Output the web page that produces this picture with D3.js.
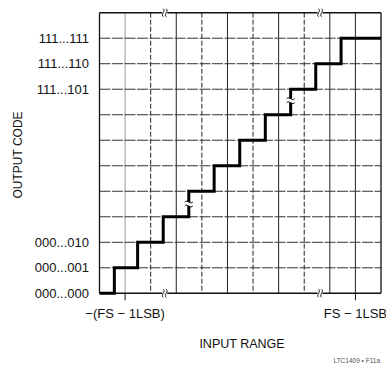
<!DOCTYPE html>
<html>
<head>
<meta charset="utf-8">
<script src="https://cdn.jsdelivr.net/npm/d3@7"></script>
<style>
body{margin:0;background:#fff}
text{font-family:"Liberation Sans",Arial,sans-serif;fill:#111}
</style>
</head>
<body>
<div id="chart"></div>
<script>
// transfer function, x in grid cells
const STEP_X = [0.58,1.49,2.49,3.49,4.48,5.48,6.48,7.47,8.45,9.44];
const CODES = [1,2,3,4,5,6,7,8,9,10];
const Y_TICKS = [0,1,2,8,9,10];
const Y_LABELS = ["000...000","000...001","000...010","111...101","111...110","111...111"];
const X_TICKS = [1,10];
const X_LABELS = ["\u2212(FS \u2212 1LSB)","FS \u2212 1LSB"];
const AXIS_BREAKS = [2.55, 8.62];
const STEP_BREAKS = [[3.49,3.5],[7.47,7.55]];
const GRID_N = 11;

var width = 386, height = 365;

var svg = d3.select("#chart").append("svg")
    .attr("width", width).attr("height", height);

var x = d3.scaleLinear().domain([0, GRID_N]).range([99.5, 381]);
var y = d3.scaleLinear().domain([0, GRID_N]).range([293.3, 12.7]);

var cells = d3.range(1, GRID_N);

// grid
svg.append("g").selectAll("line.v").data(cells).enter().append("line")
    .attr("x1", d => x(d)).attr("x2", d => x(d))
    .attr("y1", y(GRID_N)).attr("y2", y(0))
    .attr("stroke", d => d == 1 ? "#999" : "#222")
    .attr("stroke-width", 1)
    .attr("stroke-dasharray", d => (d % 2 == 0 && d < 10) ? "5,2" : null);

svg.append("g").selectAll("line.h").data(cells).enter().append("line")
    .attr("x1", x(0)).attr("x2", x(GRID_N))
    .attr("y1", d => y(d)).attr("y2", d => y(d))
    .attr("stroke", "#333")
    .attr("stroke-width", 1)
    .attr("stroke-dasharray", "11,1.5");

// frame with axis breaks
var gap = 2.5;
function brokenEdge(v, w) {
  var pts = [x(0)].concat(...AXIS_BREAKS.map(b => [x(b) - gap, x(b) + gap]), [x(GRID_N)]);
  for (var i = 0; i < pts.length; i += 2) {
    svg.append("line")
      .attr("x1", pts[i]).attr("x2", pts[i+1])
      .attr("y1", y(v)).attr("y2", y(v))
      .attr("stroke", "#111").attr("stroke-width", w);
  }
  AXIS_BREAKS.forEach(function(b) {
    [-1.5, 1.5].forEach(function(o) {
      var cx = x(b) + o, cy = y(v);
      svg.append("path")
        .attr("d", `M${cx},${cy-4} C${cx+3},${cy-1.5} ${cx-3},${cy+1.5} ${cx},${cy+4}`)
        .attr("fill", "none").attr("stroke", "#111").attr("stroke-width", 1);
    });
  });
}
brokenEdge(GRID_N, 1.6);
brokenEdge(0, 1.6);

svg.append("line").attr("x1", x(0)).attr("x2", x(0))
    .attr("y1", y(GRID_N)).attr("y2", y(0))
    .attr("stroke", "#111").attr("stroke-width", 1.3);
svg.append("line").attr("x1", x(GRID_N)).attr("x2", x(GRID_N))
    .attr("y1", y(GRID_N)).attr("y2", y(0))
    .attr("stroke", "#111").attr("stroke-width", 1.3);

// x ticks
svg.append("g").selectAll("line").data(X_TICKS).enter().append("line")
    .attr("x1", d => x(d)).attr("x2", d => x(d))
    .attr("y1", y(0)).attr("y2", y(0) + 7)
    .attr("stroke", "#111").attr("stroke-width", 1);

// staircase
var stairs = [{x: 0, c: 0}].concat(STEP_X.map((s, i) => ({x: s, c: CODES[i]})), [{x: GRID_N, c: CODES[CODES.length-1]}]);
var line = d3.line().x(d => x(d.x)).y(d => y(d.c)).curve(d3.curveStepAfter);
svg.append("path").datum(stairs)
    .attr("d", line)
    .attr("fill", "none").attr("stroke", "#000")
    .attr("stroke-width", 3).attr("stroke-linejoin", "miter");

// breaks on the staircase
STEP_BREAKS.forEach(function(b) {
  var cx = x(b[0]), cy = y(b[1]);
  svg.append("rect").attr("x", cx - 3).attr("y", cy - 2).attr("width", 6).attr("height", 4).attr("fill", "#fff");
  [-2, 2].forEach(function(o) {
    svg.append("path")
      .attr("d", `M${cx-4},${cy+o} C${cx-1.5},${cy+o-3} ${cx+1.5},${cy+o+3} ${cx+4},${cy+o}`)
      .attr("fill", "none").attr("stroke", "#000").attr("stroke-width", 1);
  });
});

// labels
svg.append("g").selectAll("text").data(Y_TICKS).enter().append("text")
    .attr("x", 89).attr("y", d => y(d)).attr("dy", "0.35em")
    .attr("text-anchor", "end").attr("font-size", 13)
    .text((d, i) => Y_LABELS[i]);

svg.append("g").selectAll("text").data(X_TICKS).enter().append("text")
    .attr("x", d => x(d)).attr("y", 318)
    .attr("text-anchor", "middle").attr("font-size", 13)
    .text((d, i) => X_LABELS[i]);

svg.append("text").attr("x", 242).attr("y", 348)
    .attr("text-anchor", "middle").attr("font-size", 12.5)
    .text("INPUT RANGE");

svg.append("text")
    .attr("transform", "translate(21.5,155) rotate(-90)")
    .attr("text-anchor", "middle").attr("font-size", 12)
    .text("OUTPUT CODE");

svg.append("text").attr("x", 380).attr("y", 363)
    .attr("text-anchor", "end").attr("font-size", 6.5).style("fill", "#555")
    .text("LTC1409 \u2022 F11a");
</script>
</body>
</html>
